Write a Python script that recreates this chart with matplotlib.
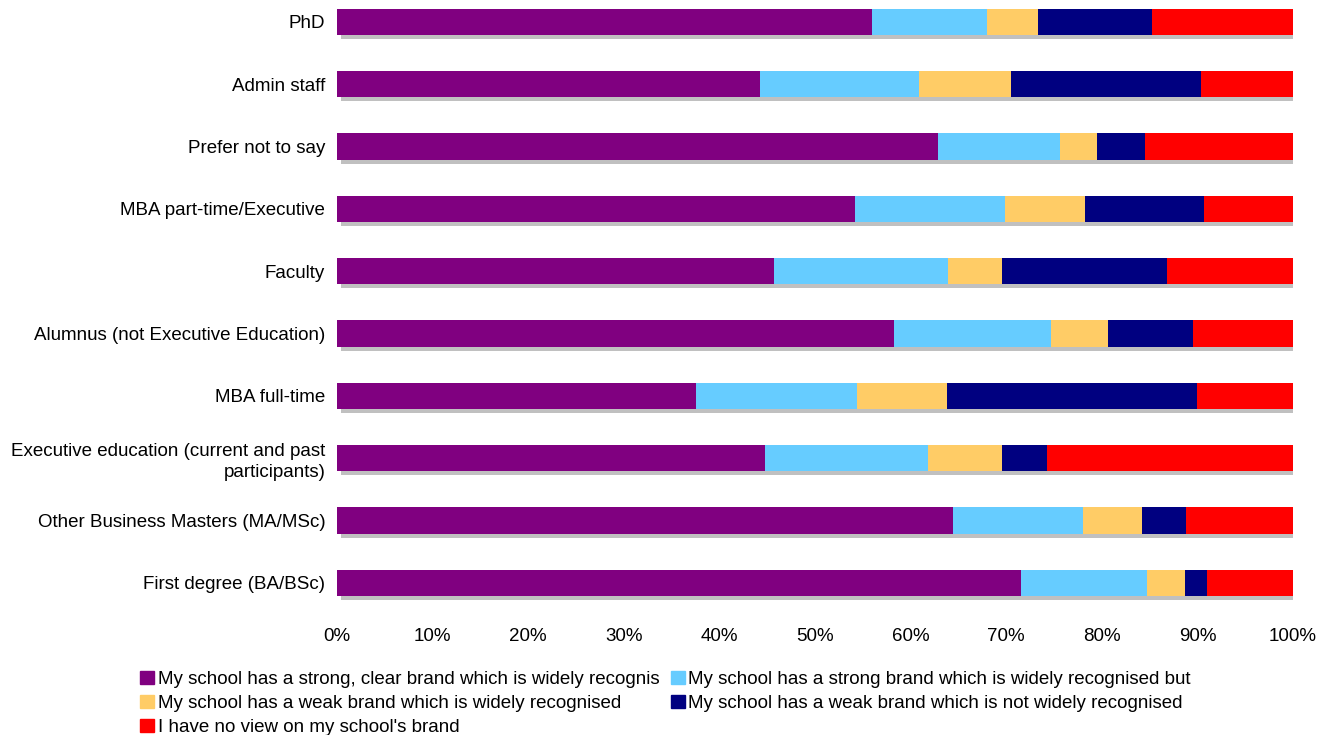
import numpy as np
import matplotlib.pyplot as plt
from matplotlib.patches import Patch

plt.rcParams['font.family'] = ['Liberation Sans', 'DejaVu Sans']

# categories listed bottom to top
categories = ['First degree (BA/BSc)',
              'Other Business Masters (MA/MSc)',
              'Executive education (current and past\nparticipants)',
              'MBA full-time',
              'Alumnus (not Executive Education)',
              'Faculty',
              'MBA part-time/Executive',
              'Prefer not to say',
              'Admin staff',
              'PhD']

strong_clear = [71.5, 64.4, 44.8, 37.6, 58.3, 45.7, 54.2, 62.9, 44.2, 56.0]
strong_but = [13.2, 13.6, 17.0, 16.8, 16.4, 18.2, 15.7, 12.7, 16.7, 12.0]
weak_recog = [4.0, 6.2, 7.8, 9.4, 5.9, 5.7, 8.3, 3.9, 9.6, 5.3]
weak_not = [2.3, 4.6, 4.7, 26.2, 8.9, 17.2, 12.5, 5.0, 19.9, 11.9]
no_view = [9.0, 11.2, 25.7, 10.0, 10.5, 13.2, 9.3, 15.5, 9.6, 14.8]

series = [strong_clear, strong_but, weak_recog, weak_not, no_view]
names = ['My school has a strong, clear brand which is widely recognis',
         'My school has a strong brand which is widely recognised but',
         'My school has a weak brand which is widely recognised',
         'My school has a weak brand which is not widely recognised',
         "I have no view on my school's brand"]
colors = ['#800080', '#66CCFF', '#FFCC66', '#000080', '#FF0000']

fs = 13.5

fig = plt.figure(figsize=(13.3, 7.35), dpi=100)
ax = fig.add_axes([337 / 1330, 1 - 614 / 735, 956 / 1330, 614 / 735])

y = np.arange(len(categories))
h = 0.42

# grey drop shadow behind each bar
ax.barh(y - 0.065, 100 - 0.4, left=0.4, height=h, color='#C0C0C0', zorder=1)

left = np.zeros(len(categories))
for vals, c in zip(series, colors):
    ax.barh(y, vals, left=left, height=h, color=c, zorder=2)
    left += np.array(vals)

ax.set_xlim(0, 100)
ax.set_ylim(-0.5, 9.35)
ax.set_yticks(y)
ax.set_yticklabels(categories, fontsize=fs, linespacing=1.3)
ax.set_xticks(np.arange(0, 101, 10))
ax.set_xticklabels([f'{v}%' for v in range(0, 101, 10)], fontsize=fs)
ax.tick_params(axis='both', length=0)
ax.tick_params(axis='y', pad=8.5)
ax.tick_params(axis='x', pad=10)
for s in ax.spines.values():
    s.set_visible(False)

handles = [Patch(color=c) for c in colors]
order = [0, 2, 4, 1, 3]
fig.legend([handles[i] for i in order], [names[i] for i in order],
           loc='upper left', bbox_to_anchor=(140 / 1330, 1 - 671 / 735),
           ncol=2, frameon=False, fontsize=fs,
           handlelength=0.75, handleheight=0.7, handletextpad=0.2,
           columnspacing=0.6, labelspacing=0.36, borderaxespad=0, borderpad=0)

fig.savefig('out.png', dpi=100)
